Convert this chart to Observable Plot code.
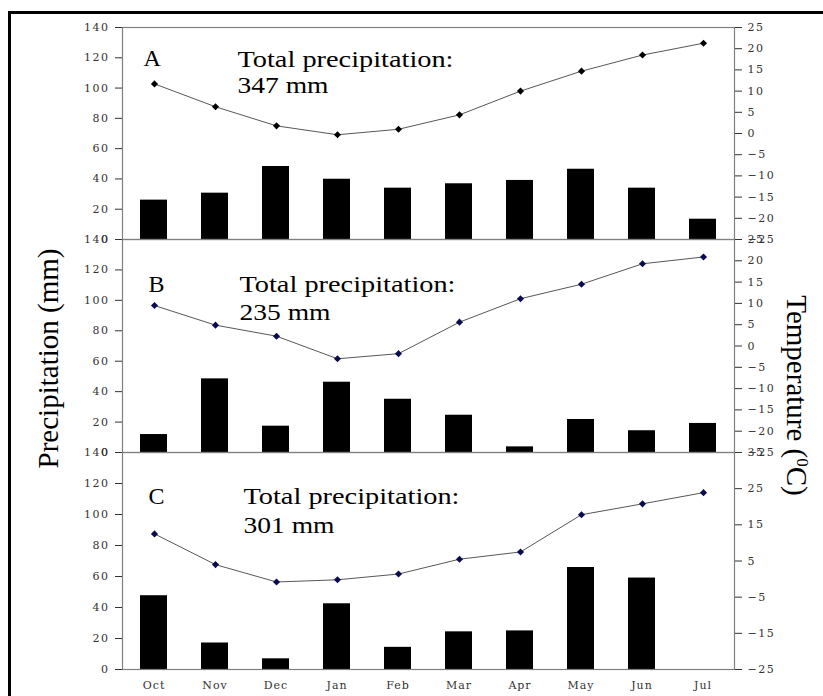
<!DOCTYPE html>
<html><head><meta charset="utf-8">
<script src="https://cdn.jsdelivr.net/npm/d3@7"></script>
<script src="https://cdn.jsdelivr.net/npm/@observablehq/plot@0.6"></script>
<style>
body{margin:0;background:#fff;overflow:hidden;}
#root{position:relative;width:823px;height:696px;overflow:hidden;background:#fff;}
#frame{position:absolute;left:8px;top:11px;width:900px;height:800px;border-left:3px solid #000;border-top:3px solid #000;}
.panel{position:absolute;left:0;}
.ytitle{position:absolute;font-family:"Liberation Serif",serif;font-size:29px;white-space:nowrap;line-height:1;color:#000;}
.ytitle sup{font-size:17px;line-height:0;vertical-align:0.6em;}
g[aria-label="y-axis tick label"] text{letter-spacing:1.5px;}
g[aria-label="x-axis tick label"] text{letter-spacing:1px;}
</style></head><body><div id="root"><div id="frame"></div></div>
<script>
// ---- data ----
const months = ["Oct","Nov","Dec","Jan","Feb","Mar","Apr","May","Jun","Jul"];
const panelLetters = ["A","B","C"];
const totalPrecip = [347, 235, 301];
const precipA = [26, 30.6, 48.2, 39.8, 33.9, 36.8, 39, 46.4, 33.9, 13.4];
const tempA   = [11.7, 6.3, 1.8, -0.3, 1.0, 4.4, 10.0, 14.7, 18.5, 21.3];
const precipB = [11.8, 48.4, 17.3, 46.2, 35.0, 24.5, 3.7, 21.7, 14.3, 19.1];
const tempB   = [9.5, 4.9, 2.3, -3.0, -1.8, 5.6, 11.1, 14.5, 19.3, 20.9];
const precipC = [47.6, 17.1, 6.9, 42.4, 14.3, 24.3, 24.9, 65.8, 59.0, 0];
const tempC   = [12.5, 4.0, -0.8, -0.2, 1.4, 5.5, 7.5, 17.8, 20.8, 23.9];
const precipTicks = [0, 20, 40, 60, 80, 100, 120, 140];
const tempTicksAB = [-25, -20, -15, -10, -5, 0, 5, 10, 15, 20, 25];
const tempTicksC  = [-25, -15, -5, 5, 15, 25, 35];
const tempDomains = [[-25, 25], [-25, 25], [-25, 35]];

const precips = [precipA, precipB, precipC];
const temps = [tempA, tempB, tempC];
const tempTicks = [tempTicksAB, tempTicksAB, tempTicksC];

// ---- layout ----
const W = 823, ML = 122, MR = 89, MT = 30, MB = 30;
const panelTop = [27, 239, 452];
const panelBottom = [239, 452, 669];
const markerColors = ["#000000", "#0a0a50", "#0a0a50"];
const letterPos = [[21, 38], [26, 52], [26, 51]];
const totalPos = [[115, 39, 65], [117, 52, 80], [121, 51, 80]];

const root = document.getElementById("root");
const baseStyle = {background: "transparent", overflow: "visible", fontFamily: "DejaVu Serif", fontSize: "11px", color: "#333"};

for (let i = 0; i < 3; i++) {
  const top = panelTop[i], bottom = panelBottom[i];
  const h = bottom - top + MT + MB;
  const precipData = months.map((m, j) => ({month: m, value: precips[i][j]}));
  const tempData = months.map((m, j) => ({month: m, value: temps[i][j]}));
  const xBand = {type: "band", domain: months, paddingInner: 0.56, paddingOuter: 0.28};
  const isLast = i === 2;
  const annFont = {fontFamily: "Liberation Serif", fill: "#000", textAnchor: "start", lineAnchor: "bottom", frameAnchor: "top-left"};
  const barPlot = Plot.plot({
    width: W, height: h, marginLeft: ML, marginRight: MR, marginTop: MT, marginBottom: MB,
    style: baseStyle,
    x: isLast ? {...xBand, axis: "bottom", tickSize: 0, tickPadding: 12, label: null} : {...xBand, axis: null},
    y: {domain: [0, 140], ticks: precipTicks, tickSize: 7, tickPadding: 6, label: null, axis: "left"},
    marks: [
      Plot.barY(precipData, {x: "month", y: "value", fill: "#000"}),
      Plot.frame({stroke: "#808080", strokeWidth: 1.2}),
      Plot.text([panelLetters[i]], {...annFont, text: d => d, fontSize: 24, dx: letterPos[i][0], dy: letterPos[i][1]}),
      Plot.text(["Total precipitation:"], {...annFont, text: d => d, fontSize: 24, dx: totalPos[i][0], dy: totalPos[i][1]}),
      Plot.text([totalPrecip[i]], {...annFont, text: d => d + " mm", fontSize: 24, dx: totalPos[i][0], dy: totalPos[i][2]})
    ]
  });
  const tempPlot = Plot.plot({
    width: W, height: h, marginLeft: ML, marginRight: MR, marginTop: MT, marginBottom: MB,
    style: baseStyle,
    x: {type: "point", domain: months, padding: 0.5, axis: null},
    y: {domain: tempDomains[i], ticks: tempTicks[i], axis: "right", tickSize: 7, tickPadding: 6, label: null},
    marks: [
      Plot.line(tempData, {x: "month", y: "value", stroke: "#444", strokeWidth: 0.9}),
      Plot.dot(tempData, {x: "month", y: "value", symbol: "diamond2", r: 3.2, fill: markerColors[i], stroke: "none"})
    ]
  });
  for (const p of [barPlot, tempPlot]) {
    const wrap = document.createElement("div");
    wrap.className = "panel";
    wrap.style.top = (top - MT) + "px";
    wrap.appendChild(p);
    root.appendChild(wrap);
  }
  d3.select(barPlot).selectAll("text").each(function() {
    const t = this.textContent;
    if (t.startsWith("Total")) d3.select(this).attr("textLength", 216).attr("lengthAdjust", "spacingAndGlyphs");
    else if (t.endsWith(" mm")) d3.select(this).attr("textLength", 91).attr("lengthAdjust", "spacingAndGlyphs");
  });
}

function vtitle(html, cx, cy, deg) {
  const d = document.createElement("div");
  d.className = "ytitle";
  d.innerHTML = html;
  root.appendChild(d);
  const w = d.offsetWidth, hh = d.offsetHeight;
  d.style.left = (cx - w / 2) + "px";
  d.style.top = (cy - hh / 2) + "px";
  d.style.transform = `rotate(${deg}deg)`;
}
vtitle("Precipitation (mm)", 49, 358, -90);
vtitle("Temperature (<sup>0</sup>C)", 796, 395, 90);
</script>
</body></html>
